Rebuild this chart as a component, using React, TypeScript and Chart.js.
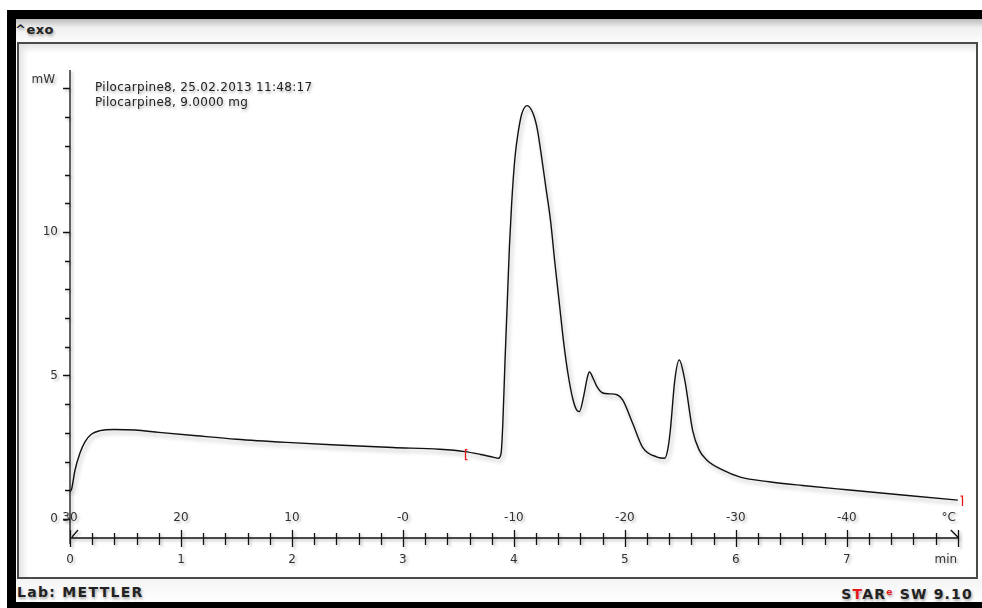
import React, { useEffect, useRef } from "react";
import { Chart, registerables } from "chart.js";

Chart.register(...registerables);

// ---- data ----
const timeMin = [
  0, 0.015, 0.045, 0.09, 0.135, 0.195, 0.27, 0.4, 0.585, 0.8, 1.14, 1.5, 1.95, 2.4, 2.91,
  3.33, 3.56, 3.7, 3.82, 3.86, 3.885, 3.9, 3.92, 3.94, 3.96, 3.98, 4.01, 4.04, 4.07, 4.12,
  4.17, 4.21, 4.25, 4.29, 4.33, 4.37, 4.41, 4.45, 4.49, 4.53, 4.565, 4.59, 4.63, 4.66, 4.68,
  4.72, 4.75, 4.8, 4.86, 4.93, 4.98, 5.07, 5.16, 5.29, 5.36, 5.39, 5.41, 5.45, 5.49, 5.54,
  5.61, 5.67, 5.74, 5.88, 6.04, 6.3, 6.6, 7.0, 7.5, 8.0,
];
const heatFlowMw = [
  0.95, 1.05, 1.7, 2.3, 2.69, 2.96, 3.08, 3.12, 3.1, 3.02, 2.9, 2.78, 2.67, 2.58, 2.49,
  2.43, 2.35, 2.25, 2.15, 2.12, 2.3, 3.3, 5.5, 7.5, 9.5, 11.0, 12.6, 13.5, 14.1, 14.4,
  14.15, 13.6, 12.6, 11.5, 10.4, 8.9, 7.5, 6.1, 5.0, 4.2, 3.8, 3.74, 4.3, 4.9, 5.12,
  4.85, 4.6, 4.39, 4.36, 4.33, 4.15, 3.34, 2.5, 2.16, 2.12, 2.5, 3.1, 4.84, 5.54, 4.84,
  3.1, 2.4, 2.05, 1.71, 1.46, 1.3, 1.17, 1.02, 0.84, 0.66,
];
const timeTickValues = [0, 1, 2, 3, 4, 5, 6, 7];
const timeTickLabels = ["0", "1", "2", "3", "4", "5", "6", "7"];
const tempTickLabels = ["30", "20", "10", "-0", "-10", "-20", "-30", "-40"];
const yTickValues = [0, 1, 2, 3, 4, 5, 6, 7, 8, 9, 10, 11, 12, 13, 14, 15];
const yLabelValues = [0, 5, 10];
const evalTimes = [3.56, 8.0];
const evalValues = [2.35, 0.66];

const X_MIN = 0;
const X_MAX = 8.02;
const Y_MIN = -0.66;
const Y_MAX = 15.64;

const FONT = '"DejaVu Sans", Verdana, sans-serif';

const dscPlugin = {
  id: "dscAxes",
  beforeDatasetsDraw(chart: any) {
    const ctx = chart.ctx;
    ctx.save();
    ctx.shadowColor = "rgba(0,0,0,0.32)";
    ctx.shadowBlur = 4;
    ctx.shadowOffsetX = 2;
    ctx.shadowOffsetY = 3;
  },
  afterDatasetsDraw(chart: any) {
    const ctx = chart.ctx;
    ctx.restore();
    const xs = chart.scales.x;
    const ys = chart.scales.y;
    const area = chart.chartArea;
    const ax = xs.getPixelForValue(0);
    const ay = area.bottom;

    ctx.save();
    ctx.shadowColor = "rgba(0,0,0,0.28)";
    ctx.shadowBlur = 3;
    ctx.shadowOffsetX = 2;
    ctx.shadowOffsetY = 2;
    ctx.strokeStyle = "#111";
    ctx.lineWidth = 1.3;
    ctx.lineCap = "butt";

    ctx.beginPath();
    // y axis
    ctx.moveTo(ax, area.top);
    ctx.lineTo(ax, ay + 6);
    for (const v of yTickValues) {
      const py = Math.round(ys.getPixelForValue(v)) + 0.5;
      const len = v % 5 === 0 ? 7 : 5;
      ctx.moveTo(ax - len, py);
      ctx.lineTo(ax, py);
    }
    // time axis
    const xEnd = xs.getPixelForValue(8);
    ctx.moveTo(ax, ay);
    ctx.lineTo(xEnd, ay);
    for (let i = 0; i <= 40; i++) {
      const px = Math.round(xs.getPixelForValue(i * 0.2)) + 0.5;
      const major = i % 5 === 0;
      ctx.moveTo(px, ay - (major ? 8 : 5));
      ctx.lineTo(px, ay + (major ? 9 : 7));
    }
    // small diagonal marks at the ends of the time axis
    ctx.moveTo(ax + 2, ay - 1);
    ctx.lineTo(ax + 8, ay - 8);
    ctx.moveTo(xEnd - 7, ay - 8);
    ctx.lineTo(xEnd, ay - 1);
    ctx.stroke();

    // labels
    ctx.fillStyle = "#333";
    ctx.font = "12px " + FONT;
    ctx.textBaseline = "middle";
    ctx.textAlign = "center";
    timeTickValues.forEach((t, i) => {
      const px = xs.getPixelForValue(t);
      ctx.fillText(timeTickLabels[i], px, ay + 22);
      ctx.fillText(tempTickLabels[i], px, ay - 20);
    });
    ctx.fillText("min", xEnd - 12, ay + 22);
    ctx.fillText("°C", xEnd - 9, ay - 20);
    ctx.textAlign = "right";
    for (const v of yLabelValues) {
      ctx.fillText(String(v), ax - 12, ys.getPixelForValue(v));
    }
    ctx.fillText("mW", ax - 15, ys.getPixelForValue(15) - 9);
    ctx.restore();

    // red evaluation limit markers
    ctx.save();
    ctx.strokeStyle = "#e8161b";
    ctx.lineWidth = 1.3;
    ctx.beginPath();
    {
      const px = Math.round(xs.getPixelForValue(evalTimes[0])) + 0.5;
      const py = ys.getPixelForValue(evalValues[0]) + 3;
      ctx.moveTo(px + 2, py - 5);
      ctx.lineTo(px, py - 5);
      ctx.lineTo(px, py + 5);
      ctx.lineTo(px + 2, py + 5);
    }
    {
      const px = Math.round(xs.getPixelForValue(evalTimes[1])) + 4.5;
      const py = ys.getPixelForValue(evalValues[1]) + 1;
      ctx.moveTo(px - 2, py - 5);
      ctx.lineTo(px, py - 5);
      ctx.lineTo(px, py + 5);
    }
    ctx.stroke();
    ctx.restore();
  },
};

export default function App() {
  const canvasRef = useRef<HTMLCanvasElement | null>(null);

  useEffect(() => {
    document.body.style.margin = "0";
    document.body.style.overflow = "hidden";
    const canvas = canvasRef.current;
    if (!canvas) return;
    const points = timeMin.map((t, i) => ({ x: t, y: heatFlowMw[i] }));
    const chart = new Chart(canvas, {
      type: "line",
      data: {
        datasets: [
          {
            data: points,
            borderColor: "#111",
            borderWidth: 1.4,
            pointRadius: 0,
            fill: false,
            cubicInterpolationMode: "monotone",
          },
        ],
      },
      options: {
        responsive: false,
        animation: false,
        devicePixelRatio: 1,
        events: [],
        layout: { padding: { left: 70, right: 22, top: 70, bottom: 70 } },
        scales: {
          x: { type: "linear", min: X_MIN, max: X_MAX, display: false },
          y: { type: "linear", min: Y_MIN, max: Y_MAX, display: false },
        },
        plugins: { legend: { display: false }, tooltip: { enabled: false } },
      },
      plugins: [dscPlugin],
    } as any);
    return () => chart.destroy();
  }, []);

  const shadowText = "1px 2px 3px rgba(0,0,0,0.35)";

  return (
    <div
      style={{
        position: "absolute",
        left: 0,
        top: 0,
        width: 982,
        height: 608,
        background: "#fff",
        overflow: "hidden",
        fontFamily: FONT,
        color: "#222",
      }}
    >
      {/* header strip */}
      <div
        style={{
          position: "absolute",
          left: 16,
          top: 18,
          width: 966,
          height: 24,
          background: "linear-gradient(#b5b5b5, #f0f0f0 40%, #fbfbfb)",
        }}
      />
      {/* footer strip */}
      <div
        style={{
          position: "absolute",
          left: 16,
          top: 579,
          width: 966,
          height: 23,
          background: "linear-gradient(#f4f4f4, #ffffff)",
        }}
      />
      {/* inner panel */}
      <div
        style={{
          position: "absolute",
          left: 17,
          top: 42,
          width: 961,
          height: 537,
          boxSizing: "border-box",
          border: "2px solid #4a4a4a",
          background: "#fff",
          boxShadow: "inset 4px 4px 6px rgba(0,0,0,0.12)",
        }}
      />
      {/* black outer frame */}
      <div style={{ position: "absolute", left: 7, top: 10, width: 975, height: 9, background: "#000" }} />
      <div style={{ position: "absolute", left: 7, top: 10, width: 9, height: 598, background: "#000" }} />
      <div style={{ position: "absolute", left: 7, top: 602, width: 975, height: 6, background: "#000" }} />

      <div
        style={{
          position: "absolute",
          left: 15,
          top: 22,
          font: "bold 13px " + FONT,
          lineHeight: "16px",
          letterSpacing: "0.5px",
          textShadow: shadowText,
        }}
      >
        ^exo
      </div>

      <div
        style={{
          position: "absolute",
          left: 95,
          top: 80,
          font: "12px " + FONT,
          lineHeight: "15px",
          letterSpacing: "0.3px",
          textShadow: shadowText,
          whiteSpace: "pre",
          zIndex: 2,
        }}
      >
        {"Pilocarpine8, 25.02.2013 11:48:17\nPilocarpine8, 9.0000 mg"}
      </div>

      <div
        style={{
          position: "absolute",
          left: 17,
          top: 584,
          font: "bold 14px " + FONT,
          lineHeight: "17px",
          letterSpacing: "1.3px",
          textShadow: shadowText,
        }}
      >
        Lab: METTLER
      </div>
      <div
        style={{
          position: "absolute",
          right: 9,
          top: 584,
          font: "bold 14px " + FONT,
          lineHeight: "17px",
          letterSpacing: "1.2px",
          textShadow: shadowText,
          whiteSpace: "pre",
        }}
      >
        <span>S</span>
        <span style={{ color: "#e8161b" }}>T</span>
        <span>AR</span>
        <span style={{ color: "#e8161b", fontSize: 9, verticalAlign: "4px" }}>e</span>
        <span> SW 9.10</span>
      </div>

      <canvas
        ref={canvasRef}
        width={982}
        height={608}
        style={{ position: "absolute", left: 0, top: 0, width: 982, height: 608, zIndex: 1 }}
      />
    </div>
  );
}
